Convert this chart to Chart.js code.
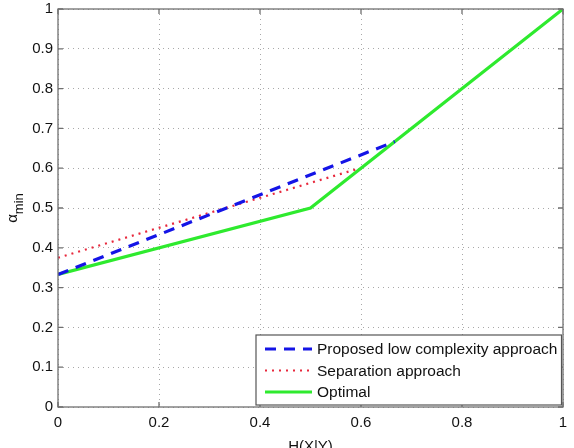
<!DOCTYPE html>
<html><head><meta charset="utf-8">
<script src="https://cdn.jsdelivr.net/npm/chart.js@4"></script>
<style>html,body{margin:0;padding:0;background:#fff}#wrap{width:574px;height:448px}</style>
</head><body><div id="wrap"><canvas id="c" width="574" height="448"></canvas></div>
<script>
const seriesNames = ['Proposed low complexity approach', 'Separation approach', 'Optimal'];
const proposedX = [0, 0.667];
const proposedY = [0.333, 0.667];
const separationX = [0, 0.59];
const separationY = [0.375, 0.597];
const optimalX = [0, 0.5, 1];
const optimalY = [0.333, 0.5, 1];
const xTicks = [0, 0.2, 0.4, 0.6, 0.8, 1];
const yTicks = [0, 0.1, 0.2, 0.3, 0.4, 0.5, 0.6, 0.7, 0.8, 0.9, 1];
const xTitle = 'H(X|Y)';
const yTitleMain = 'α';
const yTitleSub = 'min';

const pts = (xs, ys) => xs.map((x, i) => ({x, y: ys[i]}));
const FONT = '"Liberation Sans", Arial, sans-serif';
const noPad = s => { s.paddingTop = 0; s.paddingBottom = 0; s.paddingLeft = 0; s.paddingRight = 0; };

const frameLegend = {
  id: 'frameLegend',
  afterDraw(chart) {
    const {ctx, chartArea: a} = chart;
    ctx.save();
    ctx.strokeStyle = '#707070'; ctx.lineWidth = 1.3; ctx.setLineDash([]);
    ctx.strokeRect(a.left, a.top, a.right - a.left, a.bottom - a.top);
    const xs = chart.scales.x, ys = chart.scales.y;
    ctx.beginPath();
    xTicks.forEach(v => { const p = xs.getPixelForValue(v);
      ctx.moveTo(p, a.bottom); ctx.lineTo(p, a.bottom - 5);
      ctx.moveTo(p, a.top); ctx.lineTo(p, a.top + 5); });
    yTicks.forEach(v => { const p = ys.getPixelForValue(v);
      ctx.moveTo(a.left, p); ctx.lineTo(a.left + 5, p);
      ctx.moveTo(a.right, p); ctx.lineTo(a.right - 5, p); });
    ctx.stroke();
    // legend box
    const bx = 256, by = 335, bw = a.right - 1.5 - bx, bh = a.bottom - 2 - by;
    ctx.fillStyle = '#fff'; ctx.fillRect(bx, by, bw, bh);
    ctx.strokeStyle = '#555'; ctx.lineWidth = 1.2; ctx.strokeRect(bx, by, bw, bh);
    ctx.font = '15.5px ' + FONT; ctx.fillStyle = '#111'; ctx.textBaseline = 'middle'; ctx.textAlign = 'left';
    chart.data.datasets.forEach((ds, i) => {
      const yy = by + 14 + i * 21.5;
      ctx.strokeStyle = ds.borderColor; ctx.lineWidth = ds.borderWidth;
      ctx.setLineDash(ds.borderDash || []);
      ctx.beginPath(); ctx.moveTo(265, yy); ctx.lineTo(312, yy); ctx.stroke();
      ctx.setLineDash([]);
      ctx.fillText(ds.label, 317, yy + 1);
    });
    // y title with subscript
    ctx.translate(15, (a.top + a.bottom) / 2);
    ctx.rotate(-Math.PI / 2);
    ctx.fillStyle = '#111'; ctx.textAlign = 'left'; ctx.textBaseline = 'alphabetic';
    ctx.font = '15px ' + FONT;
    const w1 = ctx.measureText(yTitleMain).width;
    ctx.font = '13px ' + FONT;
    const w2 = ctx.measureText(yTitleSub).width;
    const sx = -(w1 + w2) / 2;
    ctx.font = '15px ' + FONT; ctx.fillText(yTitleMain, sx, 2);
    ctx.font = '13px ' + FONT; ctx.fillText(yTitleSub, sx + w1, 8);
    ctx.restore();
  }
};

new Chart(document.getElementById('c'), {
  type: 'line',
  data: {
    datasets: [
      {label: seriesNames[0], data: pts(proposedX, proposedY), borderColor: '#1414e6', borderWidth: 3.2, borderDash: [11, 8], pointRadius: 0, fill: false},
      {label: seriesNames[1], data: pts(separationX, separationY), borderColor: '#e8283c', borderWidth: 2.2, borderDash: [2, 5], pointRadius: 0, fill: false},
      {label: seriesNames[2], data: pts(optimalX, optimalY), borderColor: '#2eea2e', borderWidth: 3.2, pointRadius: 0, fill: false}
    ]
  },
  options: {
    responsive: false, animation: false,
    layout: {padding: {top: 9, right: 11, left: 0, bottom: 0}},
    plugins: {legend: {display: false}, tooltip: {enabled: false}},
    scales: {
      x: {type: 'linear', min: 0, max: 1,
        afterBuildTicks: s => { s.ticks = xTicks.map(v => ({value: v})); },
        afterFit: s => { s.height = 41; noPad(s); },
        grid: {color: '#a8a8a8', drawTicks: false, lineWidth: 1},
        border: {display: false, dash: [1, 4]},
        ticks: {color: '#111', font: {family: FONT, size: 15}, padding: 7, maxRotation: 0, callback: v => String(v)},
        title: {display: true, text: xTitle, color: '#111', font: {family: FONT, size: 15}, padding: {top: 1, bottom: -8}}
      },
      y: {type: 'linear', min: 0, max: 1,
        afterBuildTicks: s => { s.ticks = yTicks.map(v => ({value: v})); },
        afterFit: s => { s.width = 58; noPad(s); },
        grid: {color: '#a8a8a8', drawTicks: false, lineWidth: 1},
        border: {display: false, dash: [1, 4]},
        ticks: {color: '#111', font: {family: FONT, size: 15}, padding: 5, callback: v => String(v)}
      }
    }
  },
  plugins: [frameLegend]
});
</script></body></html>
